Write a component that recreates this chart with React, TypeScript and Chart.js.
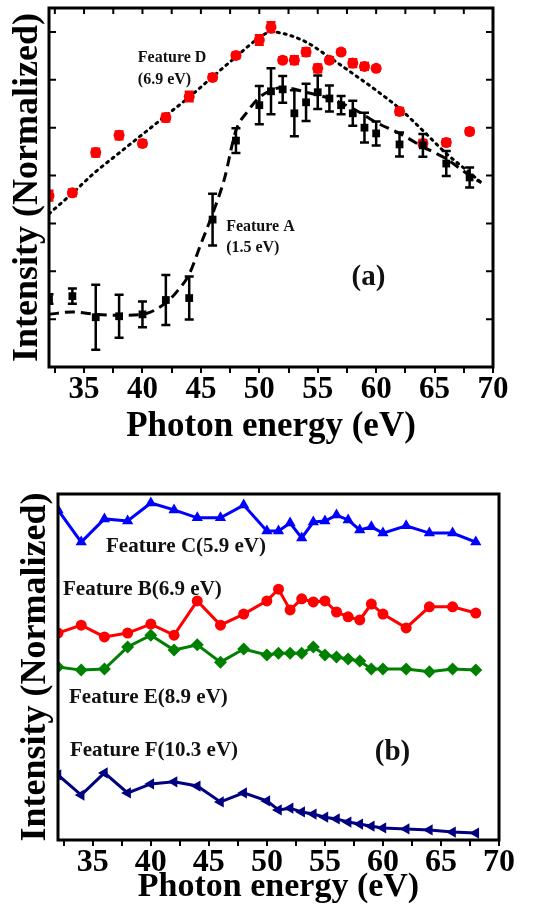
import React, { useEffect, useRef } from 'react';
import { Chart, registerables } from 'chart.js';

Chart.register(...registerables);

const FONT = '"Liberation Serif", "Times New Roman", serif';

// ---------- Panel (a) ----------
const energyA = [32, 34, 36, 38, 40, 42, 44, 46, 48, 50, 51, 52, 53, 54, 55, 56, 57, 58, 59, 60, 62, 64, 66, 68];
const featureD = [3.58, 3.64, 4.48, 4.84, 4.67, 5.21, 5.65, 6.05, 6.51, 6.83, 7.1, 6.41, 6.41, 6.58, 6.24, 6.41, 6.58, 6.35, 6.28, 6.24, 5.34, 4.67, 4.69, 4.92];
const featureDErr = [0.1, 0.07, 0.08, 0.08, 0.06, 0.08, 0.1, 0.06, 0.06, 0.1, 0.1, 0.06, 0.08, 0.08, 0.08, 0.06, 0.05, 0.08, 0.07, 0.05, 0.07, 0.07, 0.07, 0.06];
const featureA = [1.42, 1.48, 1.04, 1.06, 1.1, 1.4, 1.44, 3.08, 4.73, 5.47, 5.76, 5.8, 5.3, 5.53, 5.74, 5.61, 5.47, 5.3, 5.0, 4.88, 4.65, 4.63, 4.25, 3.96];
const featureAErr = [0.1, 0.16, 0.68, 0.45, 0.27, 0.52, 0.45, 0.54, 0.26, 0.4, 0.48, 0.28, 0.48, 0.39, 0.35, 0.27, 0.19, 0.26, 0.31, 0.25, 0.25, 0.24, 0.26, 0.21];

const fitDX = [32, 34, 36, 38, 40, 42, 44, 46, 48, 50, 51, 52, 54, 56, 58, 60, 62, 64, 66, 68, 69];
const fitDY = [3.2, 3.63, 4.08, 4.47, 4.86, 5.25, 5.64, 6.06, 6.48, 6.88, 7.0, 6.97, 6.79, 6.47, 6.13, 5.78, 5.4, 4.94, 4.46, 4.06, 3.85];
const fitAX = [32, 34, 36, 38, 40, 42, 43, 44, 45, 46, 47, 48, 49, 50, 51, 52, 54, 56, 58, 60, 62, 64, 66, 68, 69];
const fitAY = [1.1, 1.15, 1.1, 1.08, 1.1, 1.34, 1.59, 1.94, 2.57, 3.2, 3.92, 4.94, 5.34, 5.63, 5.78, 5.84, 5.74, 5.61, 5.4, 5.11, 4.88, 4.6, 4.35, 4.0, 3.85];

const xTickValues = [32.5, 35, 37.5, 40, 42.5, 45, 47.5, 50, 52.5, 55, 57.5, 60, 62.5, 65, 67.5, 70];
const yTickValuesA = [1, 2, 3, 4, 5, 6, 7];

const textsA = [
  { text: 'Feature D', x: 39.6, y: 6.45, size: 16 },
  { text: '(6.9 eV)', x: 39.6, y: 5.99, size: 16 },
  { text: 'Feature A', x: 47.16, y: 2.93, size: 16 },
  { text: '(1.5 eV)', x: 47.16, y: 2.49, size: 16 },
  { text: '(a)', x: 57.9, y: 1.86, size: 29 },
];

// ---------- Panel (b) ----------
const energyB = [32, 34, 36, 38, 40, 42, 44, 46, 48, 50, 51, 52, 53, 54, 55, 56, 57, 58, 59, 60, 62, 64, 66, 68];
const featureC = [9.54, 8.61, 9.28, 9.22, 9.74, 9.54, 9.31, 9.31, 9.68, 8.93, 8.93, 9.16, 8.73, 9.19, 9.22, 9.39, 9.25, 8.96, 9.05, 8.87, 9.08, 8.87, 8.87, 8.61];
const featureB = [5.98, 6.21, 5.87, 5.98, 6.24, 5.92, 6.91, 6.21, 6.53, 6.91, 7.25, 6.65, 6.97, 6.88, 6.91, 6.59, 6.45, 6.36, 6.82, 6.53, 6.13, 6.74, 6.74, 6.56];
const featureE = [5.0, 4.91, 4.94, 5.58, 5.92, 5.49, 5.64, 5.14, 5.52, 5.35, 5.4, 5.4, 5.4, 5.58, 5.35, 5.29, 5.23, 5.17, 4.94, 4.94, 4.94, 4.86, 4.94, 4.91];
const featureF = [1.88, 1.3, 1.94, 1.36, 1.62, 1.68, 1.56, 1.1, 1.36, 1.13, 0.87, 0.92, 0.81, 0.75, 0.66, 0.61, 0.52, 0.46, 0.4, 0.35, 0.32, 0.29, 0.23, 0.2];

const textsB = [
  { text: 'Feature C(5.9 eV)', x: 36.14, y: 8.47, size: 21 },
  { text: 'Feature B(6.9 eV)', x: 32.43, y: 7.23, size: 21 },
  { text: 'Feature E(8.9 eV)', x: 32.95, y: 4.13, size: 21 },
  { text: 'Feature F(10.3 eV)', x: 33.03, y: 2.57, size: 21 },
  { text: '(b)', x: 59.3, y: 2.54, size: 29 },
];

const pts = (xs: number[], ys: number[]) => xs.map((x, i) => ({ x, y: ys[i] }));

const errorBarPlugin = {
  id: 'errorBars',
  beforeDatasetDraw(chart: any, args: any) {
    const ds = chart.data.datasets[args.index];
    if (!ds.errors) return;
    const ys = chart.scales.y;
    const ctx = chart.ctx;
    const a = chart.chartArea;
    ctx.save();
    ctx.beginPath();
    ctx.rect(a.left - 1, a.top - 1, a.right - a.left + 2, a.bottom - a.top + 2);
    ctx.clip();
    ctx.strokeStyle = ds.errorColor;
    ctx.lineWidth = 2.5;
    args.meta.data.forEach((pt: any, i: number) => {
      const v = ds.data[i].y;
      const e = ds.errors[i];
      const t = ys.getPixelForValue(v + e);
      const b = ys.getPixelForValue(v - e);
      ctx.beginPath();
      ctx.moveTo(pt.x, t);
      ctx.lineTo(pt.x, b);
      ctx.moveTo(pt.x - 4.5, t);
      ctx.lineTo(pt.x + 4.5, t);
      ctx.moveTo(pt.x - 4.5, b);
      ctx.lineTo(pt.x + 4.5, b);
      ctx.stroke();
    });
    ctx.restore();
  },
};

const makeFramePlugin = (innerTicks: boolean) => ({
  id: 'frame',
  afterDraw(chart: any) {
    const { ctx, chartArea: a, scales } = chart;
    ctx.save();
    ctx.strokeStyle = '#000';
    ctx.lineWidth = 3;
    ctx.strokeRect(a.left, a.top, a.right - a.left, a.bottom - a.top);
    if (innerTicks) {
      ctx.lineWidth = 2;
      ctx.beginPath();
      for (const v of yTickValuesA) {
        const py = scales.y.getPixelForValue(v);
        ctx.moveTo(a.left, py);
        ctx.lineTo(a.left + 7, py);
        ctx.moveTo(a.right, py);
        ctx.lineTo(a.right - 7, py);
      }
      for (const v of xTickValues) {
        const px = scales.x.getPixelForValue(v);
        ctx.moveTo(px, a.top);
        ctx.lineTo(px, a.top + 6);
      }
      ctx.stroke();
    }
    ctx.restore();
  },
});

const makeTextPlugin = (items: { text: string; x: number; y: number; size: number }[]) => ({
  id: 'texts',
  afterDraw(chart: any) {
    const { ctx, scales } = chart;
    ctx.save();
    ctx.fillStyle = '#111';
    ctx.textAlign = 'left';
    ctx.textBaseline = 'middle';
    for (const it of items) {
      ctx.font = `bold ${it.size}px ${FONT}`;
      ctx.fillText(it.text, scales.x.getPixelForValue(it.x), scales.y.getPixelForValue(it.y));
    }
    ctx.restore();
  },
});

const xScale = (height: number, tickSize: number, titleSize: number) => ({
  type: 'linear',
  min: 32,
  max: 70,
  afterBuildTicks: (s: any) => {
    s.ticks = xTickValues.map((v) => ({ value: v }));
  },
  afterFit: (s: any) => {
    s.height = height;
  },
  ticks: {
    autoSkip: false,
    maxRotation: 0,
    padding: 1,
    color: '#000',
    font: { family: FONT, size: tickSize, weight: 'bold', lineHeight: 1 },
    callback: (v: any) => (Number(v) % 5 === 0 ? String(v) : ''),
  },
  grid: { display: true, drawOnChartArea: false, drawTicks: true, tickLength: 6, color: '#000', lineWidth: 2 },
  border: { display: false },
  title: {
    display: true,
    text: 'Photon energy (eV)',
    color: '#000',
    font: { family: FONT, size: titleSize, weight: 'bold', lineHeight: 1 },
    padding: { top: 0, bottom: 0 },
  },
});

const yScale = (min: number, max: number, width: number, titlePad: number) => ({
  type: 'linear',
  min,
  max,
  afterFit: (s: any) => {
    s.width = width;
  },
  ticks: { display: false },
  grid: { display: false },
  border: { display: false },
  title: {
    display: true,
    text: 'Intensity (Normalized)',
    color: '#000',
    font: { family: FONT, size: 36, weight: 'bold', lineHeight: 1 },
    padding: { top: titlePad, bottom: 0 },
  },
});

function PanelA() {
  const ref = useRef<HTMLCanvasElement>(null);
  useEffect(() => {
    if (!ref.current) return;
    const chart = new Chart(ref.current, {
      type: 'line',
      data: {
        datasets: [
          {
            label: 'Feature A',
            data: pts(energyA, featureA),
            errors: featureAErr,
            errorColor: '#000',
            showLine: false,
            pointStyle: 'rect',
            pointRadius: 5.5,
            pointBorderWidth: 0,
            backgroundColor: '#000',
            borderColor: '#000',
          },
          {
            label: 'Fit A',
            data: pts(fitAX, fitAY),
            borderColor: '#000',
            borderWidth: 3,
            borderDash: [10, 6],
            pointRadius: 0,
            cubicInterpolationMode: 'monotone',
            fill: false,
          },
          {
            label: 'Feature D',
            data: pts(energyA, featureD),
            errors: featureDErr,
            errorColor: '#ff0000',
            showLine: false,
            pointStyle: 'circle',
            pointRadius: 5.5,
            pointBorderWidth: 0,
            backgroundColor: '#ff0000',
            borderColor: '#ff0000',
          },
          {
            label: 'Fit D',
            data: pts(fitDX, fitDY),
            borderColor: '#000',
            borderWidth: 3,
            borderDash: [2, 5],
            borderCapStyle: 'round',
            pointRadius: 0,
            cubicInterpolationMode: 'monotone',
            fill: false,
          },
        ] as any,
      },
      options: {
        responsive: false,
        animation: false,
        layout: { padding: { left: 0, right: 41, top: 8, bottom: 11 } },
        plugins: { legend: { display: false }, tooltip: { enabled: false } },
        scales: {
          x: xScale(77, 31, 35) as any,
          y: yScale(0, 7.5, 49, 9.5) as any,
        },
      },
      plugins: [errorBarPlugin, makeFramePlugin(true), makeTextPlugin(textsA)],
    });
    return () => chart.destroy();
  }, []);
  return <canvas ref={ref} width={534} height={455} style={{ position: 'absolute', left: 0, top: 0 }} />;
}

function PanelB() {
  const ref = useRef<HTMLCanvasElement>(null);
  useEffect(() => {
    if (!ref.current) return;
    const line = (label: string, ys: number[], color: string, style: string, radius: number, rotation = 0) => ({
      label,
      data: pts(energyB, ys),
      borderColor: color,
      backgroundColor: color,
      borderWidth: 3,
      pointStyle: style,
      pointRadius: radius,
      pointRotation: rotation,
      pointBorderWidth: 0,
      tension: 0,
      fill: false,
    });
    const chart = new Chart(ref.current, {
      type: 'line',
      data: {
        datasets: [
          line('Feature C', featureC, '#0000ff', 'triangle', 6.5),
          line('Feature B', featureB, '#ff0000', 'circle', 5.5),
          line('Feature E', featureE, '#008000', 'rectRot', 6.5),
          line('Feature F', featureF, '#000080', 'triangle', 6.5, -90),
        ] as any,
      },
      options: {
        responsive: false,
        animation: false,
        layout: { padding: { left: 0, right: 35, top: 34, bottom: 6 } },
        plugins: { legend: { display: false }, tooltip: { enabled: false } },
        scales: {
          x: xScale(64, 32, 34) as any,
          y: yScale(0, 10, 58, 17.5) as any,
        },
      },
      plugins: [makeFramePlugin(false), makeTextPlugin(textsB)],
    });
    return () => chart.destroy();
  }, []);
  return <canvas ref={ref} width={534} height={450} style={{ position: 'absolute', left: 0, top: 460 }} />;
}

export default function App() {
  return (
    <div style={{ position: 'absolute', left: 0, top: 0, width: 534, height: 910, background: '#fff' }}>
      <PanelA />
      <PanelB />
    </div>
  );
}
